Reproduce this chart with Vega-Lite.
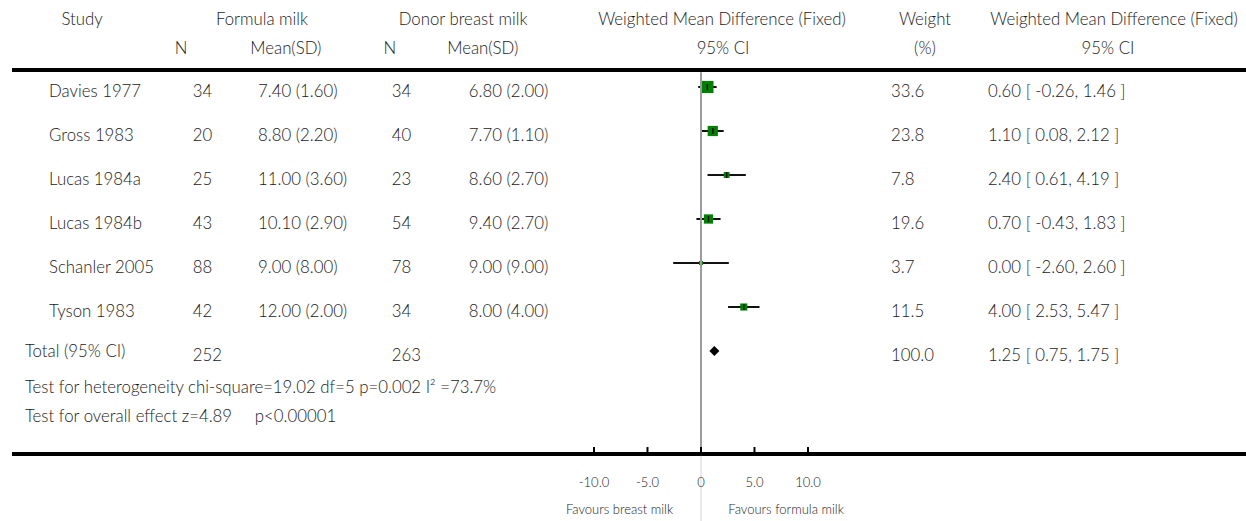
{
  "$schema": "https://vega.github.io/schema/vega-lite/v6.json",
  "width": 1246,
  "height": 521,
  "autosize": "none",
  "padding": 0,
  "background": "white",
  "config": {
    "view": {"stroke": null},
    "text": {"font": "Lato", "fontSize": 16.8, "fontWeight": 300, "color": "#1a1a1a", "baseline": "middle"}
  },
  "datasets": {
    "studies": [
      {"study": "Davies 1977", "kind": "study", "fN": 34, "fM": 7.40, "fSD": 1.60, "dN": 34, "dM": 6.80, "dSD": 2.00, "w": 33.6, "md": 0.60, "lo": -0.26, "hi": 1.46},
      {"study": "Gross 1983", "kind": "study", "fN": 20, "fM": 8.80, "fSD": 2.20, "dN": 40, "dM": 7.70, "dSD": 1.10, "w": 23.8, "md": 1.10, "lo": 0.08, "hi": 2.12},
      {"study": "Lucas 1984a", "kind": "study", "fN": 25, "fM": 11.00, "fSD": 3.60, "dN": 23, "dM": 8.60, "dSD": 2.70, "w": 7.8, "md": 2.40, "lo": 0.61, "hi": 4.19},
      {"study": "Lucas 1984b", "kind": "study", "fN": 43, "fM": 10.10, "fSD": 2.90, "dN": 54, "dM": 9.40, "dSD": 2.70, "w": 19.6, "md": 0.70, "lo": -0.43, "hi": 1.83},
      {"study": "Schanler 2005", "kind": "study", "fN": 88, "fM": 9.00, "fSD": 8.00, "dN": 78, "dM": 9.00, "dSD": 9.00, "w": 3.7, "md": 0.00, "lo": -2.60, "hi": 2.60},
      {"study": "Tyson 1983", "kind": "study", "fN": 42, "fM": 12.00, "fSD": 2.00, "dN": 34, "dM": 8.00, "dSD": 4.00, "w": 11.5, "md": 4.00, "lo": 2.53, "hi": 5.47},
      {"study": "Total (95% CI)", "kind": "total", "fN": 252, "fM": null, "fSD": null, "dN": 263, "dM": null, "dSD": null, "w": 100.0, "md": 1.25, "lo": 0.75, "hi": 1.75}
    ],
    "ticks": [{"v": -10}, {"v": -5}, {"v": 0}, {"v": 5}, {"v": 10}]
  },
  "resolve": {"scale": {"y": "independent"}},
  "layer": [
    {
      "data": {"name": "studies"},
      "transform": [
        {"calculate": "datum.fM == null ? '' : format(datum.fM,'.2f') + ' (' + format(datum.fSD,'.2f') + ')'", "as": "fMSD"},
        {"calculate": "datum.dM == null ? '' : format(datum.dM,'.2f') + ' (' + format(datum.dSD,'.2f') + ')'", "as": "dMSD"},
        {"calculate": "format(datum.w,'.1f')", "as": "wt"},
        {"calculate": "replace(format(datum.md,'.2f'),'\u2212','-') + ' [ ' + replace(format(datum.lo,'.2f'),'\u2212','-') + ', ' + replace(format(datum.hi,'.2f'),'\u2212','-') + ' ]'", "as": "ciText"}
      ],
      "encoding": {
        "y": {"field": "study", "type": "nominal", "axis": null,
              "scale": {"type": "point", "domain": ["Davies 1977", "Gross 1983", "Lucas 1984a", "Lucas 1984b", "Schanler 2005", "Tyson 1983", "Total (95% CI)"], "range": [87, 351], "padding": 0}}
      },
      "layer": [
        {
          "transform": [{"filter": "datum.kind == 'study'"}],
          "mark": {"type": "rule", "color": "#111", "strokeWidth": 2},
          "encoding": {
            "x": {"field": "lo", "type": "quantitative", "axis": null, "scale": {"domain": [-65.514, 50.935], "nice": false, "zero": false}},
            "x2": {"field": "hi"}
          }
        },
        {
          "transform": [{"filter": "datum.kind == 'study'"}],
          "mark": {"type": "square", "filled": true, "color": "#008000", "opacity": 1},
          "encoding": {
            "x": {"field": "md", "type": "quantitative", "axis": null, "scale": {"domain": [-65.514, 50.935], "nice": false, "zero": false}},
            "size": {"field": "w", "type": "quantitative", "legend": null, "scale": {"domain": [0, 100], "range": [0, 440]}}
          }
        },
        {
          "transform": [{"filter": "datum.kind == 'study'"}],
          "mark": {"type": "tick", "orient": "vertical", "color": "#111", "thickness": 1.5, "size": 6, "opacity": 1},
          "encoding": {
            "x": {"field": "md", "type": "quantitative", "axis": null, "scale": {"domain": [-65.514, 50.935], "nice": false, "zero": false}}
          }
        },
        {
          "transform": [{"filter": "datum.kind == 'total'"}],
          "mark": {"type": "point", "shape": "diamond", "filled": true, "color": "#000", "size": 100, "opacity": 1},
          "encoding": {
            "x": {"field": "md", "type": "quantitative", "axis": null, "scale": {"domain": [-65.514, 50.935], "nice": false, "zero": false}}
          }
        },
        {
          "transform": [{"filter": "datum.kind == 'study'"}],
          "mark": {"type": "text", "align": "left", "dy": 5},
          "encoding": {
            "x": {"datum": -60.93, "type": "quantitative", "axis": null, "scale": {"domain": [-65.514, 50.935], "nice": false, "zero": false}},
            "text": {"field": "study"}
          }
        },
        {
          "transform": [{"filter": "datum.kind == 'total'"}],
          "mark": {"type": "text", "align": "left", "dy": 1},
          "encoding": {
            "x": {"datum": -63.18, "type": "quantitative", "axis": null, "scale": {"domain": [-65.514, 50.935], "nice": false, "zero": false}},
            "text": {"field": "study"}
          }
        },
        {
          "mark": {"type": "text", "align": "left", "dy": 5},
          "encoding": {
            "x": {"datum": -47.50, "type": "quantitative", "axis": null, "scale": {"domain": [-65.514, 50.935], "nice": false, "zero": false}},
            "text": {"field": "fN"}
          }
        },
        {
          "mark": {"type": "text", "align": "left", "dy": 5},
          "encoding": {
            "x": {"datum": -41.40, "type": "quantitative", "axis": null, "scale": {"domain": [-65.514, 50.935], "nice": false, "zero": false}},
            "text": {"field": "fMSD"}
          }
        },
        {
          "mark": {"type": "text", "align": "left", "dy": 5},
          "encoding": {
            "x": {"datum": -28.90, "type": "quantitative", "axis": null, "scale": {"domain": [-65.514, 50.935], "nice": false, "zero": false}},
            "text": {"field": "dN"}
          }
        },
        {
          "mark": {"type": "text", "align": "left", "dy": 5},
          "encoding": {
            "x": {"datum": -21.70, "type": "quantitative", "axis": null, "scale": {"domain": [-65.514, 50.935], "nice": false, "zero": false}},
            "text": {"field": "dMSD"}
          }
        },
        {
          "mark": {"type": "text", "align": "left", "dy": 5},
          "encoding": {
            "x": {"datum": 17.76, "type": "quantitative", "axis": null, "scale": {"domain": [-65.514, 50.935], "nice": false, "zero": false}},
            "text": {"field": "wt"}
          }
        },
        {
          "mark": {"type": "text", "align": "left", "dy": 5},
          "encoding": {
            "x": {"datum": 26.82, "type": "quantitative", "axis": null, "scale": {"domain": [-65.514, 50.935], "nice": false, "zero": false}},
            "text": {"field": "ciText"}
          }
        }
      ]
    },
    {
      "data": {"values": [{}]},
      "layer": [
        {
          "mark": {"type": "rule", "color": "#000", "strokeWidth": 4},
          "encoding": {
            "x": {"datum": -64.393, "type": "quantitative", "axis": null, "scale": {"domain": [-65.514, 50.935], "nice": false, "zero": false}},
            "x2": {"datum": 50.935},
            "y": {"datum": 0.591, "type": "quantitative", "axis": null, "scale": {"domain": [-1, 10.841], "reverse": true, "nice": false, "zero": false}}
          }
        },
        {
          "mark": {"type": "rule", "color": "#000", "strokeWidth": 4},
          "encoding": {
            "x": {"datum": -64.393, "type": "quantitative", "axis": null, "scale": {"domain": [-65.514, 50.935], "nice": false, "zero": false}},
            "x2": {"datum": 50.935},
            "y": {"datum": 9.318, "type": "quantitative", "axis": null, "scale": {"domain": [-1, 10.841], "reverse": true, "nice": false, "zero": false}}
          }
        },
        {
          "mark": {"type": "rule", "color": "#9c9c9c", "strokeWidth": 2},
          "encoding": {
            "x": {"datum": 0, "type": "quantitative", "axis": null, "scale": {"domain": [-65.514, 50.935], "nice": false, "zero": false}},
            "y": {"datum": 0.64, "type": "quantitative", "axis": null, "scale": {"domain": [-1, 10.841], "reverse": true, "nice": false, "zero": false}},
            "y2": {"datum": 9.27}
          }
        },
        {
          "mark": {"type": "rule", "color": "#d4d4d4", "strokeWidth": 1},
          "encoding": {
            "x": {"datum": 0, "type": "quantitative", "axis": null, "scale": {"domain": [-65.514, 50.935], "nice": false, "zero": false}},
            "y": {"datum": 9.36, "type": "quantitative", "axis": null, "scale": {"domain": [-1, 10.841], "reverse": true, "nice": false, "zero": false}},
            "y2": {"datum": 10.841}
          }
        },
        {
          "data": {"name": "ticks"},
          "mark": {"type": "rule", "color": "#000", "strokeWidth": 2},
          "encoding": {
            "x": {"field": "v", "type": "quantitative", "axis": null, "scale": {"domain": [-65.514, 50.935], "nice": false, "zero": false}},
            "y": {"datum": 9.16, "type": "quantitative", "axis": null, "scale": {"domain": [-1, 10.841], "reverse": true, "nice": false, "zero": false}},
            "y2": {"datum": 9.318}
          }
        },
        {
          "data": {"name": "ticks"},
          "transform": [{"calculate": "datum.v == 0 ? '0' : replace(format(datum.v,'.1f'),'\u2212','-')", "as": "lab"}],
          "mark": {"type": "text", "align": "center", "fontSize": 13},
          "encoding": {
            "x": {"field": "v", "type": "quantitative", "axis": null, "scale": {"domain": [-65.514, 50.935], "nice": false, "zero": false}},
            "y": {"datum": 9.975, "type": "quantitative", "axis": null, "scale": {"domain": [-1, 10.841], "reverse": true, "nice": false, "zero": false}},
            "text": {"field": "lab"}
          }
        },
        {
          "mark": {"type": "text", "align": "right", "fontSize": 13},
          "encoding": {
            "x": {"datum": -2.6, "type": "quantitative", "axis": null, "scale": {"domain": [-65.514, 50.935], "nice": false, "zero": false}},
            "y": {"datum": 10.6, "type": "quantitative", "axis": null, "scale": {"domain": [-1, 10.841], "reverse": true, "nice": false, "zero": false}},
            "text": {"value": "Favours breast milk"}
          }
        },
        {
          "mark": {"type": "text", "align": "left", "fontSize": 13},
          "encoding": {
            "x": {"datum": 2.55, "type": "quantitative", "axis": null, "scale": {"domain": [-65.514, 50.935], "nice": false, "zero": false}},
            "y": {"datum": 10.6, "type": "quantitative", "axis": null, "scale": {"domain": [-1, 10.841], "reverse": true, "nice": false, "zero": false}},
            "text": {"value": "Favours formula milk"}
          }
        },
        {
          "mark": {"type": "text", "align": "left"},
          "encoding": {
            "x": {"datum": -63.18, "type": "quantitative", "axis": null, "scale": {"domain": [-65.514, 50.935], "nice": false, "zero": false}},
            "y": {"datum": 7.82, "type": "quantitative", "axis": null, "scale": {"domain": [-1, 10.841], "reverse": true, "nice": false, "zero": false}},
            "text": {"value": "Test for heterogeneity chi-square=19.02 df=5 p=0.002 I\u00b2 =73.7%"}
          }
        },
        {
          "mark": {"type": "text", "align": "left"},
          "encoding": {
            "x": {"datum": -63.18, "type": "quantitative", "axis": null, "scale": {"domain": [-65.514, 50.935], "nice": false, "zero": false}},
            "y": {"datum": 8.477, "type": "quantitative", "axis": null, "scale": {"domain": [-1, 10.841], "reverse": true, "nice": false, "zero": false}},
            "text": {"value": "Test for overall effect z=4.89\u00a0\u00a0\u00a0\u00a0\u00a0p<0.00001"}
          }
        },
        {
          "mark": {"type": "text", "align": "center"},
          "encoding": {
            "x": {"datum": -57.85, "type": "quantitative", "axis": null, "scale": {"domain": [-65.514, 50.935], "nice": false, "zero": false}},
            "y": {"datum": -0.545, "type": "quantitative", "axis": null, "scale": {"domain": [-1, 10.841], "reverse": true, "nice": false, "zero": false}},
            "text": {"value": "Study"}
          }
        },
        {
          "mark": {"type": "text", "align": "center"},
          "encoding": {
            "x": {"datum": -41.03, "type": "quantitative", "axis": null, "scale": {"domain": [-65.514, 50.935], "nice": false, "zero": false}},
            "y": {"datum": -0.545, "type": "quantitative", "axis": null, "scale": {"domain": [-1, 10.841], "reverse": true, "nice": false, "zero": false}},
            "text": {"value": "Formula milk"}
          }
        },
        {
          "mark": {"type": "text", "align": "center"},
          "encoding": {
            "x": {"datum": -22.24, "type": "quantitative", "axis": null, "scale": {"domain": [-65.514, 50.935], "nice": false, "zero": false}},
            "y": {"datum": -0.545, "type": "quantitative", "axis": null, "scale": {"domain": [-1, 10.841], "reverse": true, "nice": false, "zero": false}},
            "text": {"value": "Donor breast milk"}
          }
        },
        {
          "mark": {"type": "text", "align": "center"},
          "encoding": {
            "x": {"datum": 1.96, "type": "quantitative", "axis": null, "scale": {"domain": [-65.514, 50.935], "nice": false, "zero": false}},
            "y": {"datum": -0.545, "type": "quantitative", "axis": null, "scale": {"domain": [-1, 10.841], "reverse": true, "nice": false, "zero": false}},
            "text": {"value": "Weighted Mean Difference (Fixed)"}
          }
        },
        {
          "mark": {"type": "text", "align": "center"},
          "encoding": {
            "x": {"datum": 20.93, "type": "quantitative", "axis": null, "scale": {"domain": [-65.514, 50.935], "nice": false, "zero": false}},
            "y": {"datum": -0.545, "type": "quantitative", "axis": null, "scale": {"domain": [-1, 10.841], "reverse": true, "nice": false, "zero": false}},
            "text": {"value": "Weight"}
          }
        },
        {
          "mark": {"type": "text", "align": "center"},
          "encoding": {
            "x": {"datum": 38.6, "type": "quantitative", "axis": null, "scale": {"domain": [-65.514, 50.935], "nice": false, "zero": false}},
            "y": {"datum": -0.545, "type": "quantitative", "axis": null, "scale": {"domain": [-1, 10.841], "reverse": true, "nice": false, "zero": false}},
            "text": {"value": "Weighted Mean Difference (Fixed)"}
          }
        },
        {
          "mark": {"type": "text", "align": "center"},
          "encoding": {
            "x": {"datum": -48.6, "type": "quantitative", "axis": null, "scale": {"domain": [-65.514, 50.935], "nice": false, "zero": false}},
            "y": {"datum": 0.114, "type": "quantitative", "axis": null, "scale": {"domain": [-1, 10.841], "reverse": true, "nice": false, "zero": false}},
            "text": {"value": "N"}
          }
        },
        {
          "mark": {"type": "text", "align": "center"},
          "encoding": {
            "x": {"datum": -38.8, "type": "quantitative", "axis": null, "scale": {"domain": [-65.514, 50.935], "nice": false, "zero": false}},
            "y": {"datum": 0.114, "type": "quantitative", "axis": null, "scale": {"domain": [-1, 10.841], "reverse": true, "nice": false, "zero": false}},
            "text": {"value": "Mean(SD)"}
          }
        },
        {
          "mark": {"type": "text", "align": "center"},
          "encoding": {
            "x": {"datum": -29.07, "type": "quantitative", "axis": null, "scale": {"domain": [-65.514, 50.935], "nice": false, "zero": false}},
            "y": {"datum": 0.114, "type": "quantitative", "axis": null, "scale": {"domain": [-1, 10.841], "reverse": true, "nice": false, "zero": false}},
            "text": {"value": "N"}
          }
        },
        {
          "mark": {"type": "text", "align": "center"},
          "encoding": {
            "x": {"datum": -20.4, "type": "quantitative", "axis": null, "scale": {"domain": [-65.514, 50.935], "nice": false, "zero": false}},
            "y": {"datum": 0.114, "type": "quantitative", "axis": null, "scale": {"domain": [-1, 10.841], "reverse": true, "nice": false, "zero": false}},
            "text": {"value": "Mean(SD)"}
          }
        },
        {
          "mark": {"type": "text", "align": "center"},
          "encoding": {
            "x": {"datum": 2.06, "type": "quantitative", "axis": null, "scale": {"domain": [-65.514, 50.935], "nice": false, "zero": false}},
            "y": {"datum": 0.114, "type": "quantitative", "axis": null, "scale": {"domain": [-1, 10.841], "reverse": true, "nice": false, "zero": false}},
            "text": {"value": "95% CI"}
          }
        },
        {
          "mark": {"type": "text", "align": "center"},
          "encoding": {
            "x": {"datum": 20.93, "type": "quantitative", "axis": null, "scale": {"domain": [-65.514, 50.935], "nice": false, "zero": false}},
            "y": {"datum": 0.114, "type": "quantitative", "axis": null, "scale": {"domain": [-1, 10.841], "reverse": true, "nice": false, "zero": false}},
            "text": {"value": "(%)"}
          }
        },
        {
          "mark": {"type": "text", "align": "center"},
          "encoding": {
            "x": {"datum": 38.04, "type": "quantitative", "axis": null, "scale": {"domain": [-65.514, 50.935], "nice": false, "zero": false}},
            "y": {"datum": 0.114, "type": "quantitative", "axis": null, "scale": {"domain": [-1, 10.841], "reverse": true, "nice": false, "zero": false}},
            "text": {"value": "95% CI"}
          }
        }
      ]
    }
  ]
}
